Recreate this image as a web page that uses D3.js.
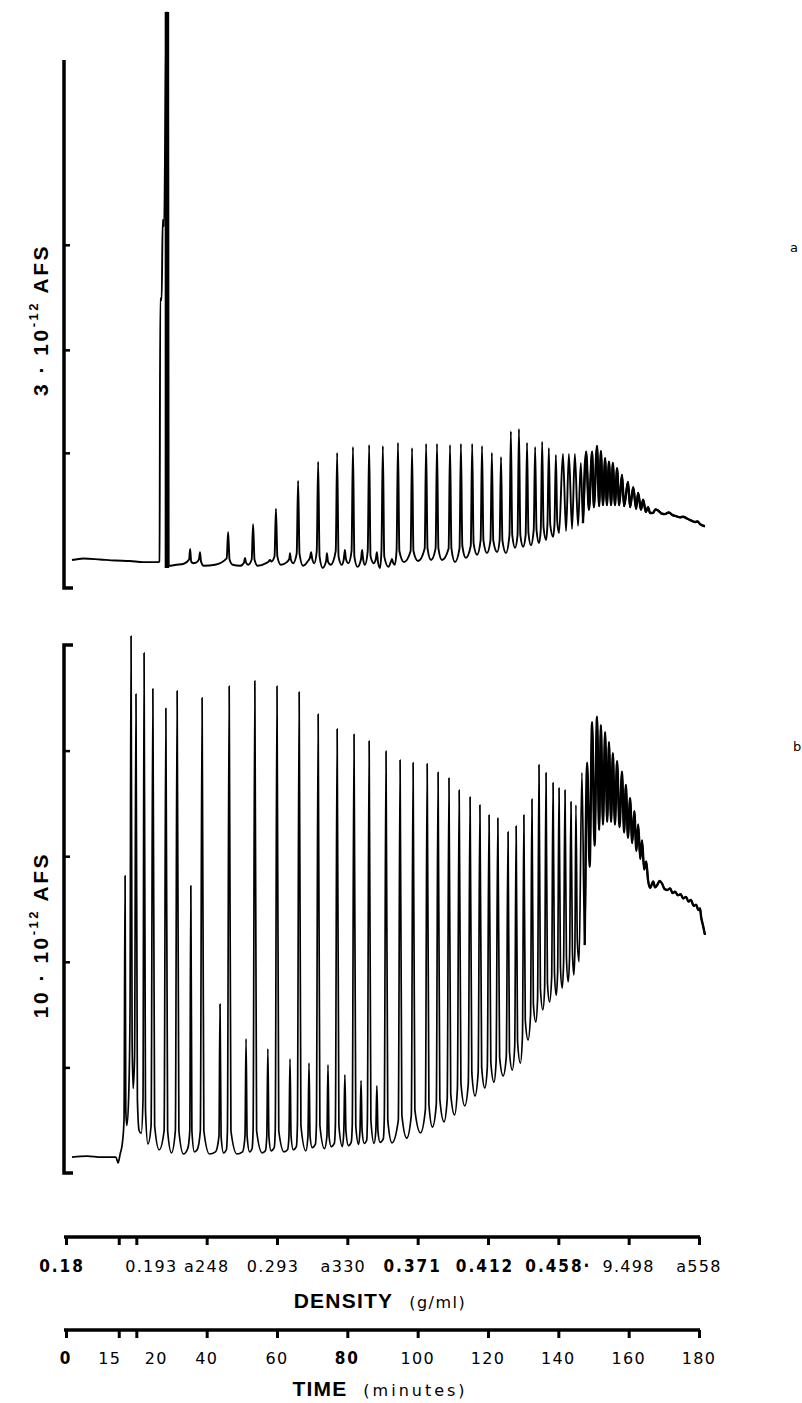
<!DOCTYPE html>
<html>
<head>
<meta charset="utf-8">
<title>density gradient trace</title>
<script src="https://cdn.jsdelivr.net/npm/d3@7"></script>
<style>
body { margin:0; background:#fff; }
svg { display:block; }
</style>
</head>
<body>
<div id="chart"></div>
<script>
// time axis (minutes) and the density read at each tick
var timeTicks = [0, 15, 20, 40, 60, 80, 100, 120, 140, 160, 180];
var timeLabels = ["0", "15", "20", "40", "60", "80", "100", "120", "140", "160", "180"];
var densityLabels = ["0.18", "", "0.193", "a248", "0.293", "a330", "0.371", "0.412", "0.458·", "9.498", "a558"];

// y ticks, percent of full scale
var ticksA = [25.6, 45.1, 65];
var ticksB = [20, 40, 60, 80];

// trace a: [minutes, % full scale]
var traceA = [[1.7,5.3],[5,5.6],[9.7,5.4],[14,5.2],[18.2,5.1],[22,4.9],[26.2,4.9],[26.6,5],[26.8,54.9],[27.2,54.5],[27.5,69.7],[27.9,68.5],[28.4,100],[28.7,109.1],[29,100],[29.2,4.2],
  [31.3,4.4],[33.5,4.6],[35,5.4],[35.3,7.4],[35.6,5],[36.2,4.7],[37,4.8],[37.8,5.4],[38.1,6.8],[38.4,5],[39.2,4.2],[42.4,4.4],[45.7,5.6],[46.1,10.6],[46.5,5.4],
  [47.4,4.4],[49.5,4.2],[50.6,4.8],[50.9,5.7],[51.2,4.8],[51.8,4.4],[52.8,5.4],[53.2,12.1],[53.6,5.4],[54.5,4.2],[56.9,4.7],[57.6,5],[58,5.3],[58.4,5],[59.3,6],
  [59.7,15],[60.1,6],[61.1,4.4],[62.8,4.9],[63.5,5.5],[63.7,6.6],[63.9,5.5],[64.6,4.7],[65.6,6.5],[66,20.3],[66.4,6.5],[67.4,4.2],[68.8,5.1],[69.4,5.8],[69.7,6.8],
  [70,5.6],[70.6,4.7],[71.3,7],[71.7,23.9],[72.1,6],[73,3.8],[74,5.2],[74.2,6.6],[74.5,5],[75.3,4.4],[76.7,7],[77.1,25.6],[77.5,6],[78.4,4.4],[79,5.5],[79.3,7.2],
  [79.6,5.5],[80.3,4.7],[81.2,7],[81.6,26.7],[82,6],[82.9,4],[83.9,5.5],[84.2,7.2],[84.5,5.4],[85,4.4],[85.8,7],[86.2,27.1],[86.6,6],[87.5,4.7],[88.1,5.5],
  [88.4,6.8],[88.7,5],[89.3,3.8],[89.7,7],[90.1,26.9],[90.5,6],[91.7,4],[92.4,5],[92.7,5.5],[93,4.8],[93.5,4.4],[94,7],[94.4,27.5],[94.8,7],[96.1,4.9],[98,7],
  [98.4,26.5],[98.8,7],[100.1,5.1],[102,7.5],[102.4,27.3],[102.8,7.5],[103.8,5.3],[105.1,7.5],[105.5,27.3],[105.9,7.5],[106.9,5.3],[108.8,7.5],[109.2,27.1],
  [109.6,7.5],[110.6,4.9],[111.9,7.5],[112.3,27.3],[112.7,8],[113.7,5.7],[115.1,8],[115.5,27.3],[115.9,8.5],[116.9,6.3],[117.9,9],[118.3,26.9],[118.7,9],
  [119.7,6.6],[120.7,9],[121.1,25.6],[121.5,9],[122.6,6.8],[123.3,9],[123.7,24.8],[124.1,9],[125.1,6.6],[126.1,10],[126.5,29.7],[126.9,10],[127.7,7.6],
  [128.4,10],[128.8,30.1],[129.2,10],[130,7.8],[130.7,10],[131.1,27.5],[131.5,10.5],[132.2,8.1],[133,11],[133.4,26.7],[133.8,11],[134.5,8.5],[135,11],
  [135.4,27.7],[135.8,11.5],[136.5,9.1],[136.9,12],[137.3,26.5],[137.7,12],[138.5,9.7],[138.9,12],[139.3,25.2],[139.7,12.5],[140.2,10.4],
  [141.3,25.4],[142.2,10.8],[143,25.4],[143.9,11.2],[144.7,25.4],[145.6,11.8],[146.4,23.7],[147,12.3],[147.9,25.8],[148.7,14.8],[149.6,25.8],[150.1,15.3],
  [151,26.9],[151.6,15.5],[152.1,25.9],[152.7,15.7],[153.3,24.6],[153.8,15.7],[154.4,23.9],[155,15.7],[155.5,23.7],[156.1,15.7],[156.7,22.7],[157.3,15.7],
  [158.1,21.4],[158.7,15.5],[159.8,20.1],[160.4,15.3],[161.3,19.1],[162.1,15],[162.7,18],[163.5,14.8],[164.1,16.7],[164.9,14.4],[165.5,15.3],[166.1,14.2],
  [166.9,14.2],[167.6,14.9],[168.5,14.6],[169.4,14.1],[170.3,14],[171.4,14.3],[172.5,13.8],[173.5,13.6],[174.6,13.4],[175.5,13.5],[176.5,13.2],[177.7,12.8],
  [178.9,12.5],[179.6,12.6],[180.3,12.1],[181.7,11.7]];

// off-scale peak in trace a
var spikeA = [[28.7, 3.8], [28.7, 109.1]];

// trace b: [minutes, % full scale]
var traceB = [[1.7,3],[6,3.2],[10,3],[14.2,3],[14.8,1.9],[15.4,3.6],[16,5.5],[16.5,10],[16.8,56.3],[17,12],[17.3,9],[17.8,14],[18.2,30],[18.5,101.7],[18.8,25],
  [19.1,16],[19.5,22],[19.9,90.7],[20.3,14],[20.8,8],[21.4,7.5],[21.9,14],[22.2,98.5],[22.6,12],[23.3,5.5],[24.2,9],[24.7,91.7],[25.2,9],[26.5,4.4],[27.9,8],
  [28.4,88],[28.9,8],[30,3.8],[31.1,8],[31.6,91.3],[32.1,8],[33.4,3.6],[34.6,4.6],[35.2,8],[35.5,54.4],[35.8,8],[36.5,4],[37.3,4.4],[38.2,8],[38.7,90],[39.2,8],
  [40.8,3.6],[42.5,4],[43.5,7],[43.8,32],[44.1,7],[44.8,3.8],[45.6,4.4],[45.9,8],[46.4,92.2],[46.9,8],[48.6,3.6],[50.2,4],[50.9,7],[51.2,25.4],[51.5,7],[52.2,4],
  [52.9,4.6],[53.2,8],[53.7,93.2],[54.2,8],[55.8,3.8],[56.7,4.2],[57.1,7],[57.4,23.5],[57.7,7],[58.3,4.2],[59.2,4.8],[59.5,8],[60,92.2],[60.5,8],[62,4],[63,4.4],
  [63.4,7],[63.7,21.6],[64,7],[64.6,4.4],[65.5,5],[65.8,9],[66.3,91.1],[66.8,9],[68.2,4.2],[68.8,7],[69.1,20.8],[69.4,7],[70,4.8],[70.9,5.4],[71.2,9],[71.7,86.9],
  [72.2,9],[73.5,4.6],[74.2,7],[74.5,20.5],[74.8,7],[75.4,5],[76.3,5.6],[76.6,9],[77.1,84.1],[77.6,9],[78.6,5],[79,8],[79.3,18.6],[79.6,8],[80.3,5.2],[81.1,5.8],
  [81.4,9],[81.9,83.1],[82.4,9],[83.2,5.4],[83.6,8],[83.9,17.5],[84.2,8],[84.8,5.6],[85.5,6.2],[85.7,10],[86.2,81.8],[86.7,10],[87.6,5.6],[88.1,8],[88.4,16.5],
  [88.7,8],[89.3,5.8],[90.2,6.4],[90.5,10],[91,79.9],[91.5,10],[92.7,5.7],[94.5,10],[95,78.2],[95.5,11],[96.9,6.6],[98.2,11],[98.7,77.7],[99.2,12],[100.8,7.6],
  [102.2,12],[102.7,77.5],[103.2,13],[104.2,8.7],[105.3,13],[105.8,75.9],[106.3,14],[107.5,9.7],[108.4,14],[108.9,74.8],[109.4,15],[110.5,11],[111.3,16],
  [111.8,72.5],[112.3,17],[113.4,12.7],[114.4,17],[114.9,71.2],[115.4,19],[116.3,14.6],[117.2,19],[117.7,69.7],[118.2,20],[119.1,16.1],[119.8,20],[120.3,67.8],
  [120.8,21],[121.7,17.2],[122.3,21],[122.8,67.2],[123.3,22],[124.3,18.4],[125.2,22],[125.7,64.6],[126.1,23],[126.9,19.5],[127.6,24],[128,65.7],[128.4,25],
  [129.2,20.8],[129.8,26],[130.2,67.8],[130.6,29],[131.4,25.2],[132.1,30],[132.5,70.8],[132.9,32],[133.6,28.6],[134.1,33],[134.5,77.3],[134.9,35],[135.6,30.9],
  [136.1,35],[136.5,75.8],[136.9,36],[137.5,32.4],[138.1,37],[138.5,73.9],[138.9,38],[139.4,33.7],[139.8,38],[140.2,72.9],[140.6,39],[141.1,35],[141.5,40],
  [141.9,72.5],[142.3,41],[142.8,36.2],[143.2,41],[143.6,70.3],[144,42],[144.4,37.5],[144.7,42],[145,69.7],[145.4,44],[145.9,40],
  [146.7,75.8],[147.5,43.2],[148.2,77.7],[148.9,58],[149.6,85.4],[150.3,62],[151,86.4],[151.6,65],[152.1,84.8],[152.7,66],[153.3,83.5],[153.9,66.5],
  [154.4,81.6],[155,66.5],[155.5,79.5],[156.1,66],[156.7,78],[157.4,65.5],[158.1,76],[158.7,64.5],[159.2,73.5],[159.8,63.5],[160.4,71],[161,62.5],[161.6,68.5],
  [162.2,61],[162.7,66],[163.3,59.5],[163.8,63],[164.4,57.5],[165,59],[165.5,55.5],[166.1,54],[167,55.2],[167.5,54.1],[168,54.4],[168.8,55.3],[169.5,54.8],
  [170.2,53.8],[171,53.6],[171.8,53.9],[172.5,53],[173.2,53.3],[174,52.6],[174.8,52.8],[175.5,52],[176.3,52.3],[177,51.4],[177.7,51.7],[178.5,50.6],
  [179.2,50.8],[179.8,49.8],[180.3,50.1],[180.6,48.5],[181.1,47],[181.7,45.1]];

var width = 802, height = 1403;
var svg = d3.select("#chart").append("svg").attr("width", width).attr("height", height);
svg.append("rect").attr("width", width).attr("height", height).attr("fill", "#fff");

var x = d3.scaleLinear().domain([0, 180]).range([66, 699]);
var ya = d3.scaleLinear().domain([0, 100]).range([588, 60]);
var yb = d3.scaleLinear().domain([0, 100]).range([1173, 645]);

function trace(y) {
  return d3.line().x(function(d){ return x(d[0]); }).y(function(d){ return y(d[1]); }).curve(d3.curveMonotoneX);
}

// y axes
function yAxis(y, ticks, topFoot) {
  var g = svg.append("g").attr("transform", "translate(64,0)")
    .call(d3.axisRight(y).tickValues(ticks).tickSize(6).tickSizeOuter(9).tickFormat(""));
  g.select(".domain").attr("stroke-width", 3.5)
    .attr("d", topFoot
      ? "M9," + y(100) + "H0V" + y(0) + "H9"
      : "M0," + y(100) + "V" + y(0) + "H9");
  g.selectAll(".tick line").attr("stroke-width", 2.5);
  return g;
}
yAxis(ya, ticksA, false);
yAxis(yb, ticksB, true);

// traces, the noisy tail drawn heavier
function drawTrace(data, y, w) {
  svg.append("path").datum(data).attr("d", trace(y)).attr("fill", "none")
    .attr("stroke", "#000").attr("stroke-width", w).attr("stroke-linejoin", "round");
  svg.append("path").datum(data.filter(function(d){ return d[0] >= 147; })).attr("d", trace(y))
    .attr("fill", "none").attr("stroke", "#000").attr("stroke-width", 2.4).attr("stroke-linejoin", "round");
}
drawTrace(traceA, ya, 1.9);
svg.append("path").datum(spikeA).attr("d", d3.line().x(function(d){ return x(d[0]); }).y(function(d){ return ya(d[1]); }))
  .attr("fill", "none").attr("stroke", "#000").attr("stroke-width", 4.5);
drawTrace(traceB, yb, 1.7);

// y labels
function yLabel(cy, lead) {
  var t = svg.append("text").attr("transform", "translate(48," + cy + ") rotate(-90)")
    .attr("text-anchor", "middle").attr("font-family", "'Liberation Sans', Arial, sans-serif")
    .attr("font-weight", "bold").attr("font-size", 21).attr("letter-spacing", 2.5);
  t.append("tspan").text(lead + " · 10");
  t.append("tspan").attr("dy", -10).attr("font-size", 13).text("-12");
  t.append("tspan").attr("dy", 10).text(" AFS");
}
yLabel(320, "3");
yLabel(935, "10");

svg.append("text").attr("x", 790).attr("y", 252).attr("font-family", "'DejaVu Sans', sans-serif").attr("font-size", 13).text("a");
svg.append("text").attr("x", 793).attr("y", 751).attr("font-family", "'DejaVu Sans', sans-serif").attr("font-size", 13).text("b");

// bottom axes
var boldDensity = ["0.18", "0.371", "0.412", "0.458·"];
var boldTime = ["0", "80"];
var timeShift = { "15": -9, "20": 20 };
var densityShift = { "0.18": -4, "0.193": 15, "0.293": -4, "a330": -4, "0.371": -5, "0.412": -3 };

function xAxis(yPos, labels, bold, shift, labelY) {
  var g = svg.append("g").attr("transform", "translate(0," + yPos + ")")
    .call(d3.axisBottom(x).tickValues(timeTicks).tickSize(8).tickSizeOuter(0).tickFormat(""));
  g.select(".domain").attr("stroke-width", 3.5).attr("d", "M" + (x(0) - 2) + ",0H" + (x(180) + 1));
  g.selectAll(".tick line").attr("stroke-width", 3);
  svg.append("g").selectAll("text").data(timeTicks).join("text")
    .attr("x", function(d, i){ return x(d) + (shift[labels[i]] || 0); })
    .attr("y", labelY)
    .attr("text-anchor", "middle")
    .each(function(d, i) {
      var s = d3.select(this), lab = labels[i];
      if (bold.indexOf(lab) >= 0) {
        s.attr("font-family", "'Liberation Sans Narrow', 'DejaVu Sans Condensed', sans-serif")
         .attr("font-weight", "bold").attr("font-size", 17).attr("letter-spacing", 2);
      } else {
        s.attr("font-family", "'DejaVu Sans', sans-serif").attr("font-size", 16).attr("letter-spacing", 1.3);
      }
      s.text(lab);
    });
}
xAxis(1237, densityLabels, boldDensity, densityShift, 1272);
xAxis(1330, timeLabels, boldTime, timeShift, 1364);

function title(cx, yPos, main, unit, spacing) {
  var t = svg.append("text").attr("x", cx).attr("y", yPos).attr("text-anchor", "middle");
  t.append("tspan").attr("font-family", "'Liberation Sans', Arial, sans-serif").attr("font-weight", "bold")
    .attr("font-size", 21).attr("letter-spacing", 1.2).text(main);
  t.append("tspan").attr("font-family", "'DejaVu Sans', sans-serif").attr("font-size", 16)
    .attr("letter-spacing", spacing).attr("dx", 16).text(unit);
}
title(380, 1308, "DENSITY", "(g/ml)", 1.5);
title(380, 1396, "TIME", "(minutes)", 3);
</script>
</body>
</html>
